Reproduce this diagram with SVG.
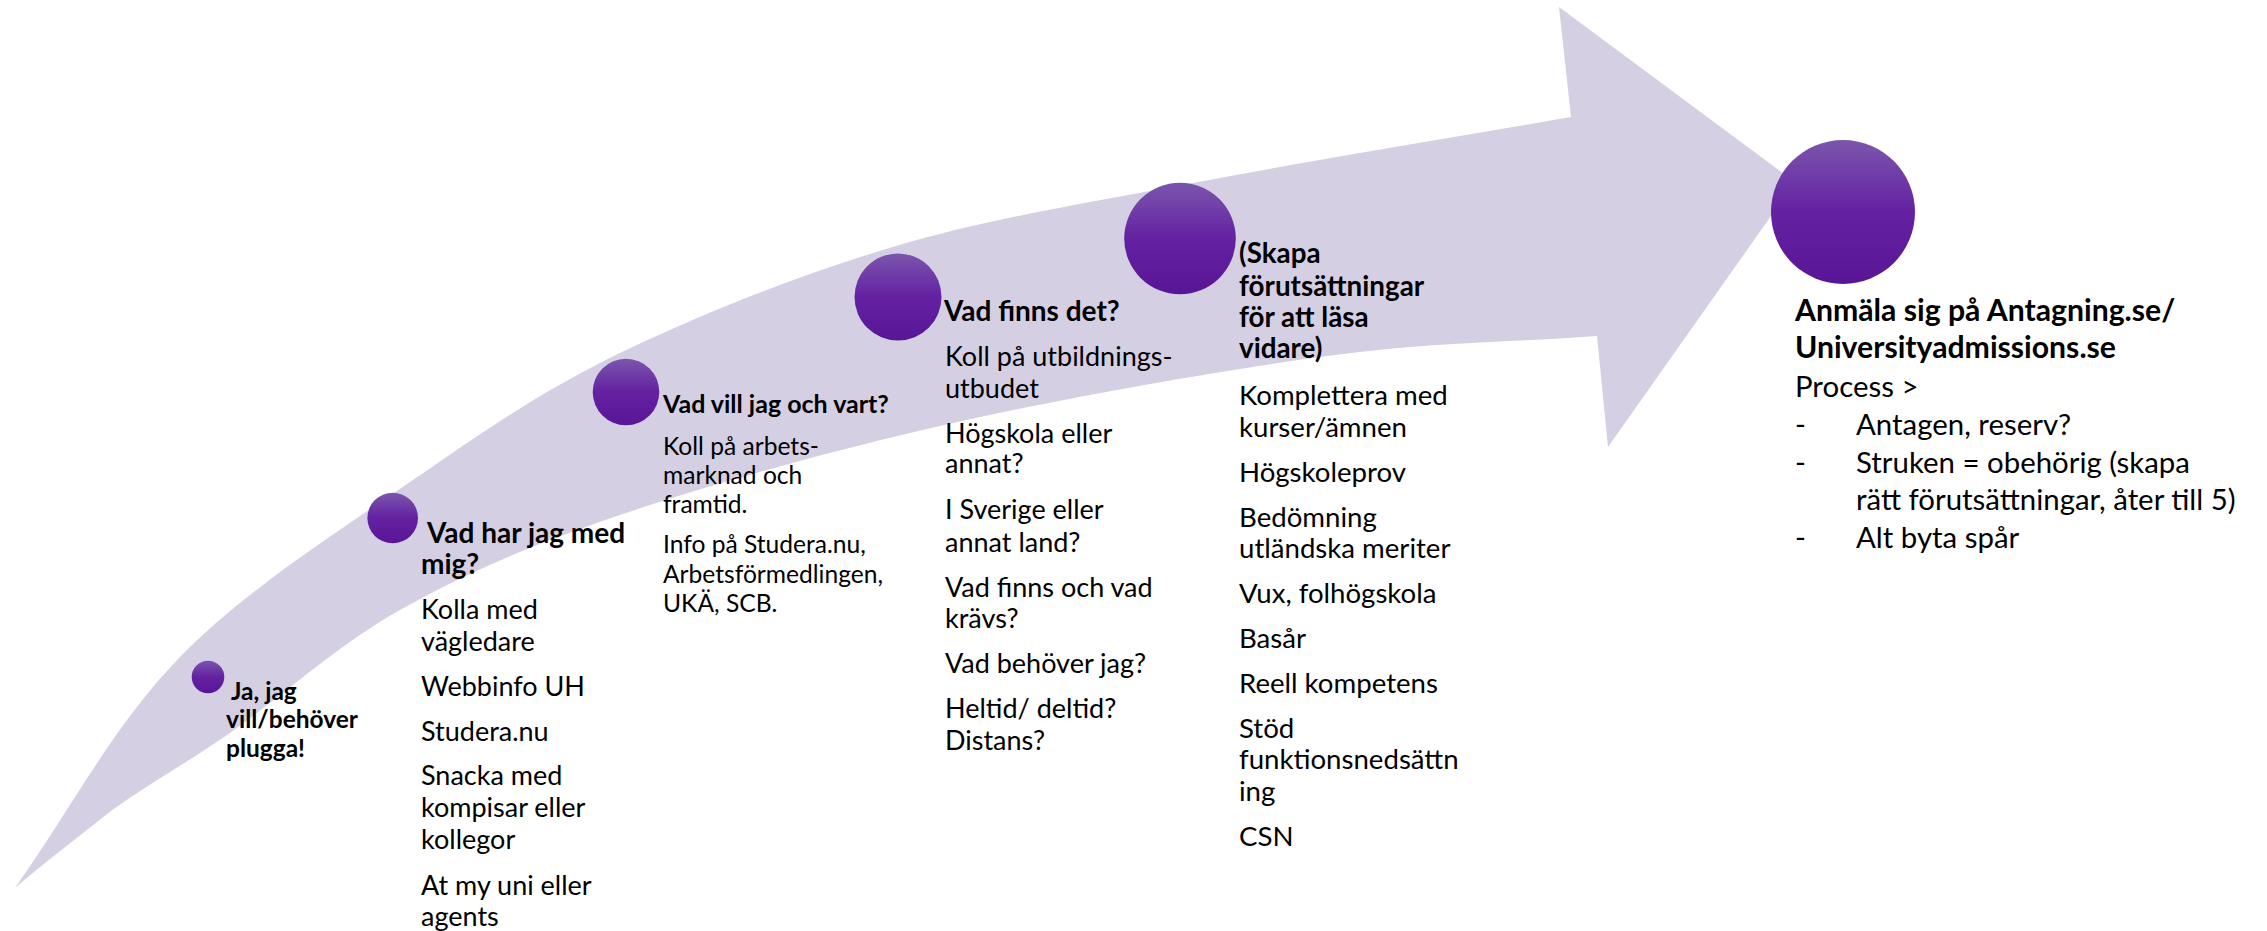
<svg xmlns="http://www.w3.org/2000/svg" width="2267" height="931" viewBox="0 0 2267 931">
<defs>
<linearGradient id="dot" x1="0" y1="0" x2="0" y2="1">
<stop offset="0" stop-color="#7B56AD"/>
<stop offset="0.5" stop-color="#6421A2"/>
<stop offset="1" stop-color="#581696"/>
</linearGradient>
<style>
.dot{fill:url(#dot)}
.arrow{fill:#D5CFE3}
text{font-family:Lato,"Liberation Sans",sans-serif;fill:#000}
.b{font-weight:700}
.n1{font-size:24.5px}
.h2{font-size:28px}
.t2{font-size:27px}
.h3{font-size:25px}
.t3{font-size:24.6px}
.h5{font-size:27.8px}
.t5{font-size:27.6px}
.h6{font-size:30.2px}
.t6{font-size:29.4px}
</style>
</defs>
<rect width="2267" height="931" fill="#fff"/>
<g id="connectors">
<path class="arrow" d="M15,888 C71,809 114,724.5 180,657 C246,589.5 339.3,530.8 413,480 C486.7,429.2 541.5,391 622,352 C702.5,313 800.8,274.2 896,246 C991.2,217.8 1080.5,204.5 1193,183 C1305.5,161.5 1445,139 1571,117 L1559,7 L1795,182 L1608,447 L1597,336 C1507,342.7 1434.3,341.5 1327,356 C1219.7,370.5 1070.8,396.5 953,423 C835.2,449.5 712.2,483.8 620,515 C527.8,546.2 465.5,573.3 400,610 C334.5,646.7 277,700.8 227,735 C177,769.2 135,792 102,818 C72,842 40,866 15,888 Z"/>
</g>
<g id="node1">
<circle class="dot" cx="208" cy="677" r="16.3"/>
<text class="b n1"><tspan x="231" y="700">Ja, jag</tspan><tspan x="226" y="728">vill/behöver</tspan><tspan x="226" y="757">plugga!</tspan></text>
</g>
<g id="node2">
<circle class="dot" cx="392.7" cy="518" r="25.3"/>
<text class="b h2"><tspan x="427" y="543">Vad har jag med</tspan><tspan x="421" y="574">mig?</tspan></text>
<text class="t2"><tspan x="421" y="619">Kolla med</tspan><tspan x="421" y="651">vägledare</tspan><tspan x="421" y="696">Webbinfo UH</tspan><tspan x="421" y="741">Studera.nu</tspan><tspan x="421" y="785">Snacka med</tspan><tspan x="421" y="817">kompisar eller</tspan><tspan x="421" y="849">kollegor</tspan><tspan x="421" y="895">At my uni eller</tspan><tspan x="421" y="926">agents</tspan></text>
</g>
<g id="node3">
<circle class="dot" cx="626" cy="392" r="33.3"/>
<text class="b h3"><tspan x="663" y="413">Vad vill jag och vart?</tspan></text>
<text class="t3"><tspan x="663" y="455">Koll på arbets-</tspan><tspan x="663" y="484">marknad och</tspan><tspan x="663" y="513">framtid.</tspan><tspan x="663" y="553">Info på Studera.nu,</tspan><tspan x="663" y="583">Arbetsförmedlingen,</tspan><tspan x="663" y="612">UKÄ, SCB.</tspan></text>
</g>
<g id="node4">
<circle class="dot" cx="898" cy="297" r="43.5"/>
<text class="b h2"><tspan x="944" y="321">Vad finns det?</tspan></text>
<text class="t2"><tspan x="945" y="366">Koll på utbildnings-</tspan><tspan x="945" y="398">utbudet</tspan><tspan x="945" y="443">Högskola eller</tspan><tspan x="945" y="473">annat?</tspan><tspan x="945" y="519">I Sverige eller</tspan><tspan x="945" y="552">annat land?</tspan><tspan x="945" y="597">Vad finns och vad</tspan><tspan x="945" y="628">krävs?</tspan><tspan x="945" y="673">Vad behöver jag?</tspan><tspan x="945" y="718">Heltid/ deltid?</tspan><tspan x="945" y="750">Distans?</tspan></text>
</g>
<g id="node5">
<circle class="dot" cx="1180" cy="238.5" r="55.8"/>
<text class="b h5"><tspan x="1239" y="263">(Skapa</tspan><tspan x="1239" y="296">förutsättningar</tspan><tspan x="1239" y="327">för att läsa</tspan><tspan x="1239" y="358">vidare)</tspan></text>
<text class="t5"><tspan x="1239" y="405">Komplettera med</tspan><tspan x="1239" y="437">kurser/ämnen</tspan><tspan x="1239" y="482">Högskoleprov</tspan><tspan x="1239" y="527">Bedömning</tspan><tspan x="1239" y="558">utländska meriter</tspan><tspan x="1239" y="603">Vux, folhögskola</tspan><tspan x="1239" y="648">Basår</tspan><tspan x="1239" y="693">Reell kompetens</tspan><tspan x="1239" y="738">Stöd</tspan><tspan x="1239" y="769">funktionsnedsättn</tspan><tspan x="1239" y="801">ing</tspan><tspan x="1239" y="846">CSN</tspan></text>
</g>
<g id="node6">
<circle class="dot" cx="1843" cy="212" r="72"/>
<text class="b h6"><tspan x="1795" y="321">Anmäla sig på Antagning.se/</tspan><tspan x="1795" y="358">Universityadmissions.se</tspan></text>
<text class="t6"><tspan x="1795" y="397">Process &gt;</tspan><tspan x="1795" y="435">-</tspan><tspan x="1856" y="435">Antagen, reserv?</tspan><tspan x="1795" y="473">-</tspan><tspan x="1856" y="473">Struken = obehörig (skapa</tspan><tspan x="1856" y="510">rätt förutsättningar, åter till 5)</tspan><tspan x="1795" y="548">-</tspan><tspan x="1856" y="548">Alt byta spår</tspan></text>
</g>
</svg>
